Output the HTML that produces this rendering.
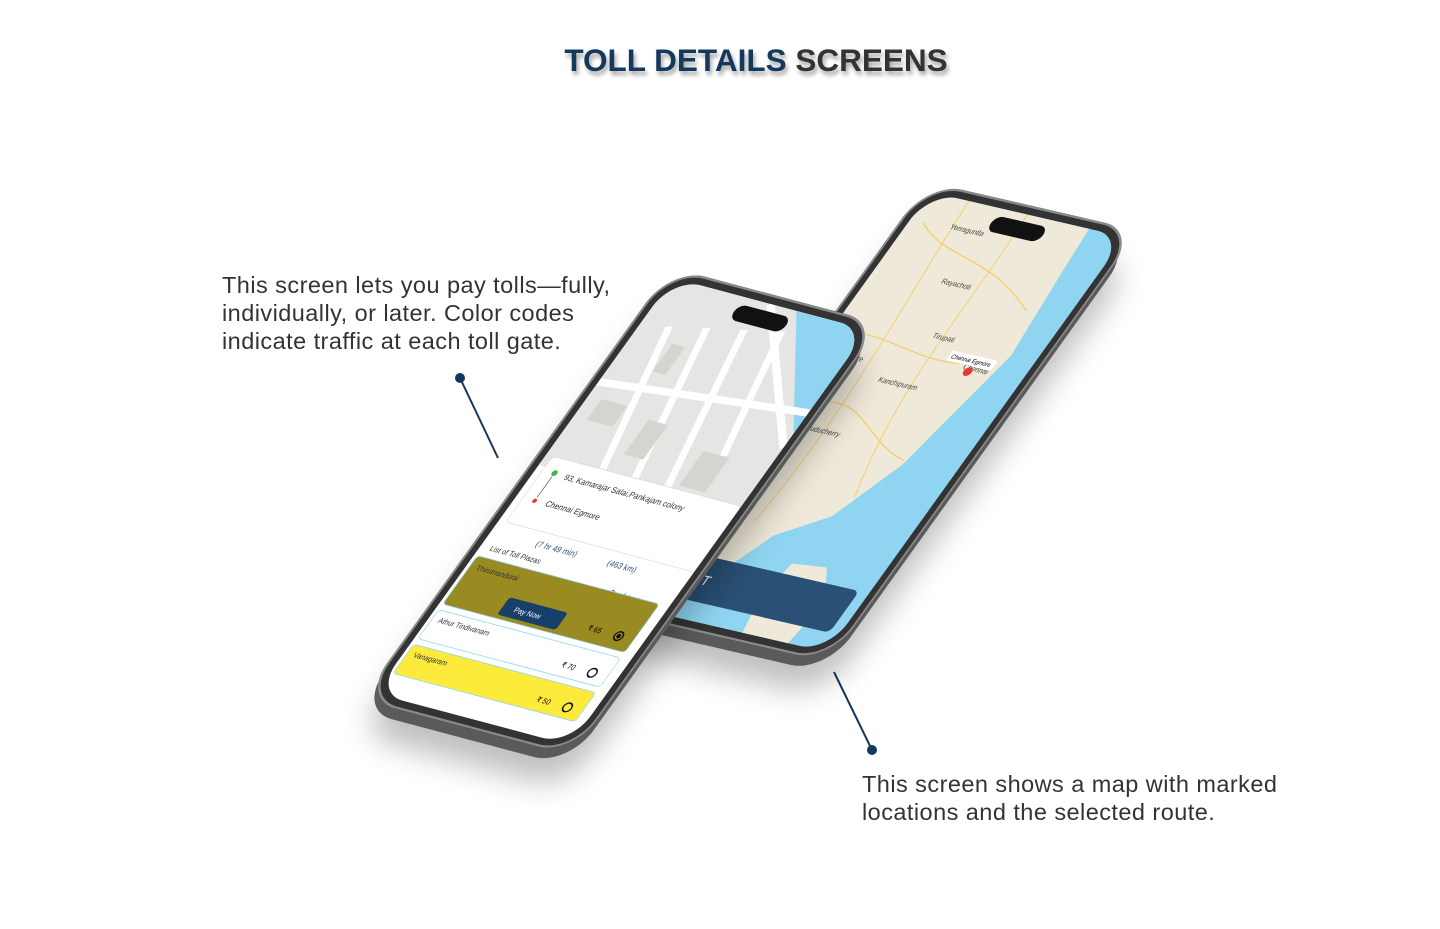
<!DOCTYPE html>
<html><head><meta charset="utf-8"><style>
body{margin:0;width:1440px;height:929px;background:#fff;position:relative;overflow:hidden;font-family:"Liberation Sans",sans-serif}
.title{position:absolute;top:42px;left:0;width:1512px;text-align:center;font-size:31.5px;font-weight:bold;letter-spacing:0px;text-shadow:2px 4px 4px rgba(0,0,0,.35)}
.t{position:absolute;font-size:23.5px;letter-spacing:0.45px;line-height:28px;color:#333}
.ph{position:absolute;left:0;top:0;transform-origin:0 0}
.frame{position:absolute;left:-12px;top:-12px;width:324px;height:624px;border-radius:52px;background:#333;box-shadow:0 0 0 3px #8a8a8a inset}
.slab{position:absolute;left:-12px;top:-12px;width:324px;height:624px;border-radius:52px;background:#5a5a5a}
.scr{position:absolute;left:0;top:0;width:300px;height:600px;border-radius:42px;overflow:hidden}
.isl{position:absolute;left:110px;top:10px;width:80px;height:22px;border-radius:12px;background:#111}
</style></head><body>
<div class="title"><span style="color:#15395e">TOLL DETAILS</span> <span style="color:#333">SCREENS</span></div>
<div class="t" style="left:222px;top:271px">This screen lets you pay tolls—fully,<br>individually, or later. Color codes<br>indicate traffic at each toll gate.</div>
<div class="t" style="left:862px;top:770px">This screen shows a map with marked<br>locations and the selected route.</div>
<svg style="position:absolute;left:0;top:0" width="1440" height="929">
<line x1="460" y1="378" x2="498" y2="458" stroke="#15395e" stroke-width="2"/><circle cx="460" cy="378" r="5" fill="#15395e"/>
<line x1="872" y1="750" x2="834" y2="672" stroke="#15395e" stroke-width="2"/><circle cx="872" cy="750" r="5" fill="#15395e"/>
</svg>

<!-- back phone -->
<div class="ph" style="transform:matrix(0.65,0.15,-0.497,0.692,930,192)">
 <div class="slab" style="transform:translate(5px,14px);box-shadow:20px 30px 40px rgba(0,0,0,.25)"></div>
 <div class="frame"></div>
 <div class="scr" style="background:#8fd5f2">
  <svg width="300" height="600" viewBox="0 0 300 600">
   <polygon points="0,0 245,0 250,60 262,180 222,346 178,430 120,470 60,480 0,470" fill="#efe9da"/>
   <polygon points="0,470 60,480 120,470 90,520 40,540 0,530" fill="#efe9da"/>
   <polygon points="170,500 220,495 250,540 240,600 170,600 160,550" fill="#efe9da"/>
   <g stroke="#f3cf6a" stroke-width="1.5" fill="none">
    <path d="M20,40 C80,80 140,60 240,120"/><path d="M10,200 C90,180 160,230 250,190"/><path d="M40,300 C100,260 150,330 220,340"/><path d="M60,0 C70,150 100,300 80,460"/><path d="M150,0 C160,120 140,250 190,400"/>
   </g>
   <g font-size="10" fill="#444"><text x="60" y="40">Yerraguntla</text><text x="100" y="110">Rayachoti</text><text x="140" y="180">Tirupati</text><text x="40" y="230">Vellore</text><text x="110" y="250">Kanchipuram</text><text x="60" y="330">Puducherry</text><text x="210" y="210">Chennai</text></g>
   <rect x="180" y="190" width="70" height="14" rx="3" fill="#fff"/><text x="184" y="200" font-size="8">Chennai Egmore</text>
   <circle cx="220" cy="212" r="6" fill="#e53935"/>
   <rect x="0" y="515" width="285" height="60" rx="8" fill="#2a5075"/>
   <text x="30" y="552" fill="#fff" font-size="18">NEXT</text>
  </svg>
  <div class="isl"></div>
 </div>
</div>

<!-- front phone -->
<div class="ph" style="transform:matrix(0.65,0.173,-0.497,0.692,673,278)">
 <div class="slab" style="transform:translate(5px,14px);box-shadow:20px 30px 40px rgba(0,0,0,.25)"></div>
 <div class="frame"></div>
 <div class="scr" style="background:#fff">
  <svg width="300" height="600" viewBox="0 0 300 600">
   <rect width="300" height="270" fill="#e6e5e3"/>
   <polygon points="190,0 300,0 300,150" fill="#8fd5f2"/>
   <g stroke="#fff" stroke-width="10" fill="none">
    <path d="M0,150 L300,120"/><path d="M40,60 L90,270"/><path d="M90,50 L140,270"/><path d="M140,40 L190,270"/><path d="M190,30 L230,200"/><path d="M150,0 L300,170"/>
   </g>
   <g fill="#d6d4d1"><rect x="20" y="170" width="40" height="30"/><rect x="100" y="180" width="30" height="50"/><rect x="200" y="200" width="40" height="50"/><rect x="60" y="80" width="20" height="40"/></g>
   <rect x="10" y="255" width="290" height="95" rx="6" fill="#fff" stroke="#ddd"/>
   <circle cx="28" cy="275" r="4" fill="#3cb54a"/><line x1="28" y1="280" x2="28" y2="310" stroke="#555"/><circle cx="28" cy="315" r="3" fill="#e53935"/>
   <text x="45" y="280" font-size="11" fill="#333">93, Kamarajar Salai,Pankajam colony</text>
   <text x="45" y="318" font-size="11" fill="#333">Chennai Egmore</text>
   <text x="70" y="370" font-size="11" fill="#2a5075">(7 hr 49 min)</text><text x="180" y="370" font-size="11" fill="#2a5075">(463 km)</text>
   <text x="15" y="390" font-size="10" fill="#333">List of Toll Plazas</text>
   <text x="210" y="405" font-size="10" fill="#333">Pay later</text><text x="270" y="408" font-size="14">&gt;</text>
   <rect x="5" y="400" width="280" height="70" rx="5" fill="#9a8a22" stroke="#8fd5f2"/>
   <text x="15" y="418" font-size="10" fill="#333">Thirumandurai</text>
   <rect x="85" y="440" width="90" height="25" rx="4" fill="#16406a"/><text x="103" y="457" font-size="10" fill="#fff">Pay Now</text>
   <text x="215" y="455" font-size="10">₹ 65</text><circle cx="262" cy="452" r="6" fill="none" stroke="#111" stroke-width="2"/><circle cx="262" cy="452" r="3" fill="#111"/>
   <rect x="5" y="478" width="280" height="42" rx="5" fill="#fff" stroke="#8fd5f2"/>
   <text x="15" y="494" font-size="10" fill="#333">Athur Tindivanam</text><text x="215" y="508" font-size="10">₹ 70</text><circle cx="262" cy="505" r="6" fill="none" stroke="#111" stroke-width="2"/>
   <rect x="5" y="528" width="280" height="42" rx="5" fill="#fdeb3b" stroke="#8fd5f2"/>
   <text x="15" y="544" font-size="10" fill="#333">Vanagaram</text><text x="215" y="558" font-size="10">₹ 50</text><circle cx="262" cy="555" r="6" fill="none" stroke="#111" stroke-width="2"/>
  </svg>
  <div class="isl"></div>
 </div>
</div>
</body></html>
